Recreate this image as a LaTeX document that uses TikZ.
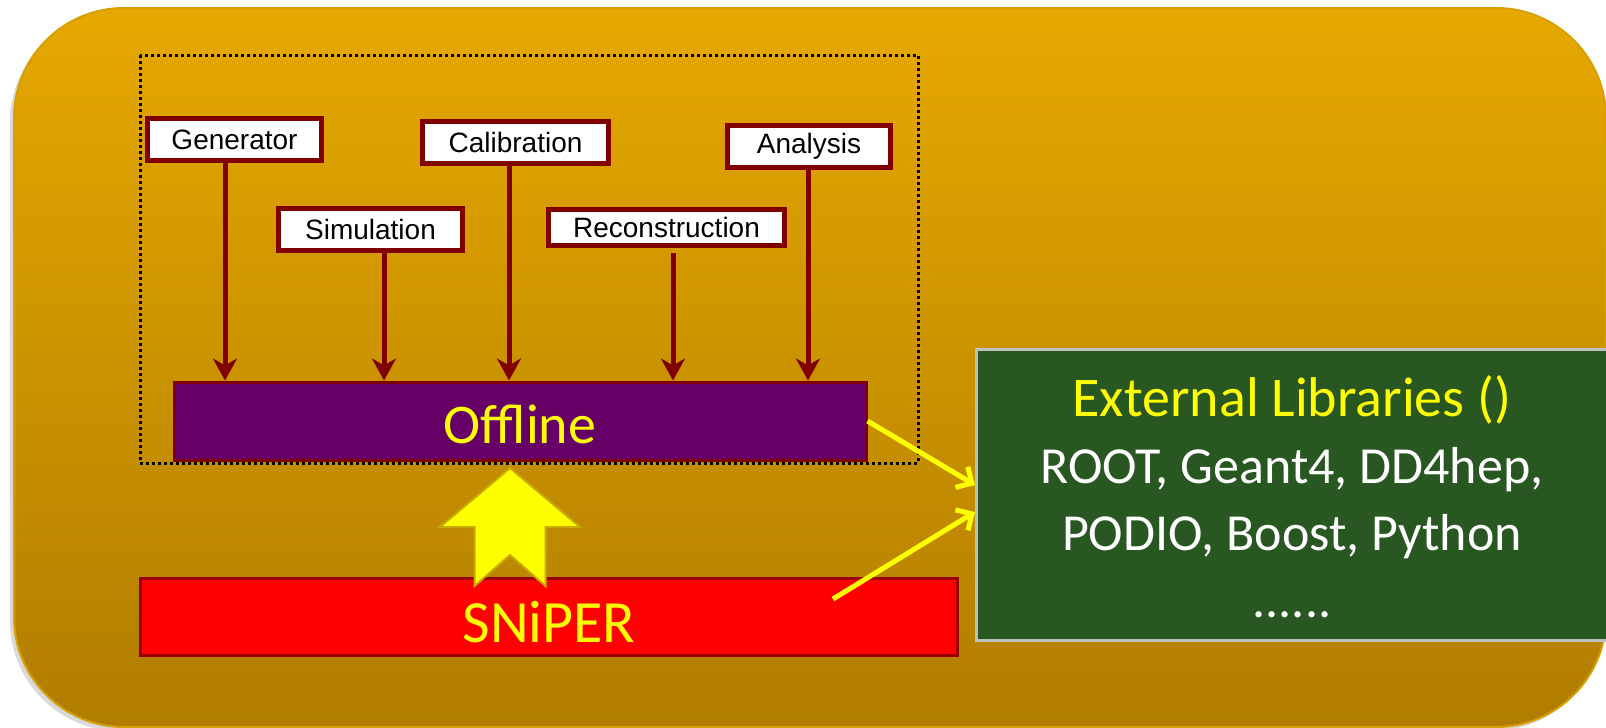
\documentclass[tikz,border=0pt]{standalone}
\usepackage{fontspec}
\setmainfont{Carlito}
\newfontfamily\arial{Liberation Sans}
\usepackage{tikz}
\usetikzlibrary{arrows.meta}
\usetikzlibrary{calc}
\usetikzlibrary{shadows}
\usetikzlibrary{positioning}

\definecolor{fondhaut}{RGB}{230,168,0}
\definecolor{fondbas}{RGB}{177,125,0}
\definecolor{fondbord}{RGB}{214,160,0}
\definecolor{rougefonce}{RGB}{128,0,0}
\definecolor{rougebord}{RGB}{150,0,0}
\definecolor{prune}{RGB}{102,0,102}
\definecolor{vertfonce}{RGB}{41,87,34}
\definecolor{grisbord}{RGB}{191,191,191}
\definecolor{jaune}{RGB}{255,255,0}
\definecolor{jaunebord}{RGB}{200,170,0}

\tikzset{
  module/.style={draw=rougefonce,line width=2.5pt,fill=white,inner sep=0pt,
    minimum height=21pt,font=\arial\fontsize{14}{16}\selectfont},
  barre/.style={line width=1.5pt,inner sep=0pt,text=jaune,text depth=0pt},
  modfleche/.style={draw=rougefonce,line width=2.5pt,
    -{Stealth[length=11pt,width=12pt,inset=3.5pt]}},
  libfleche/.style={draw=jaune,line width=2.5pt,
    -{Straight Barb[length=6pt,width=12pt]}}
}

\begin{document}
\begin{tikzpicture}[x=0.5pt,y=-0.5pt]
\useasboundingbox (0,0) rectangle (1606,728);
% fond
\shadedraw[top color=fondhaut,bottom color=fondbas,draw=fondbord,line width=1pt,
  rounded corners=55pt,drop shadow={opacity=0.3,shadow xshift=-2pt,shadow yshift=-2pt}]
  (14,8) rectangle (1606,727);
% cadre
\draw[black,line width=1.5pt,dash pattern=on 1.5pt off 1.5pt] (140,55) rectangle (918,463);
% modules
\node[module,minimum width=87pt] (gen) at (234.5,139.5) {Generator};
\node[module,minimum width=92pt] (sim) at (370.5,229.5) {Simulation};
\node[module,minimum width=93pt] (cal) at (515.5,142.5) {Calibration};
\node[module,minimum width=118pt,minimum height=18pt] (rec) at (666.5,227.5) {Reconstruction};
\node[module,minimum width=81.5pt] (ana) at (809,146.5) {Analysis};
% offline
\node[barre,draw=rougefonce,fill=prune,minimum width=346pt,minimum height=39pt,
  text height=22pt,font=\fontsize{28}{33}\selectfont] (offline) at (520,421) {Offline};
% fleches
\foreach \n/\dx/\dy in {gen/-9.5/0,sim/13.5/0,cal/-6.5/0,rec/6.5/5,ana/-1/0}
{
  \coordinate (\n-bas) at ($(\n.south)+(\dx,\dy)$);
  \draw[modfleche] (\n-bas) -- (\n-bas |- offline.north);
}
% sniper
\node[barre,draw=rougebord,fill=red,minimum width=408.5pt,minimum height=38.5pt,
  text height=25pt,font=\fontsize{30}{36}\selectfont] (sniper) at (549,617) {SNiPER};
% librairies
\node[draw=grisbord,line width=1.5pt,fill=vertfonce,anchor=west,
  minimum width=340pt,minimum height=145.5pt,inner sep=0pt] (ext) at (975,495) {};
\node[text=white,align=center,inner sep=0pt,
  font=\fontsize{26}{33.5}\selectfont] (libs) at (1292,497)
  {{\color{jaune}\fontsize{28}{33.5}\selectfont External Libraries ()}\\
   ROOT, Geant4, DD4hep,\\
   PODIO, Boost, Python\\
   ......};
% grosse fleche
\filldraw[fill=jaune,draw=jaunebord,line width=1pt]
  (510,468) -- (580,527) -- (545.5,527) -- (545.5,586) -- (510,555)
  -- (474.5,586) -- (474.5,527) -- (440,527) -- cycle;
% liens
\coordinate (depart) at ($(sniper.east)+(-126,-18)$);
\draw[libfleche] (offline.east) -- ([yshift=5pt]ext.west);
\draw[libfleche] (depart) -- ([yshift=-8.5pt]ext.west);
\end{tikzpicture}
\end{document}
